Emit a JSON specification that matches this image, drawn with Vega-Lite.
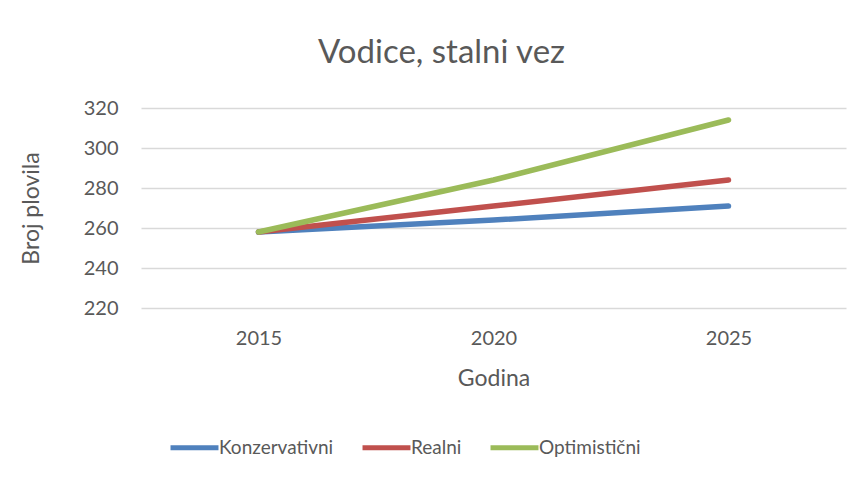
{
  "$schema": "https://vega.github.io/schema/vega-lite/v6.json",
  "width": 705,
  "height": 200,
  "autosize": {"type": "none"},
  "padding": {"left": 141, "top": 108, "right": 17, "bottom": 173},
  "background": "white",
  "title": {
    "text": "Vodice, stalni vez",
    "font": "Lato",
    "fontSize": 33,
    "fontWeight": "normal",
    "color": "#595959",
    "dx": -52,
    "offset": 28
  },
  "data": {
    "values": [
      {"Godina": "2015", "Scenarij": "Konzervativni", "Broj": 258},
      {"Godina": "2020", "Scenarij": "Konzervativni", "Broj": 264},
      {"Godina": "2025", "Scenarij": "Konzervativni", "Broj": 271},
      {"Godina": "2015", "Scenarij": "Realni", "Broj": 258},
      {"Godina": "2020", "Scenarij": "Realni", "Broj": 271},
      {"Godina": "2025", "Scenarij": "Realni", "Broj": 284},
      {"Godina": "2015", "Scenarij": "Optimistični", "Broj": 258},
      {"Godina": "2020", "Scenarij": "Optimistični", "Broj": 284},
      {"Godina": "2025", "Scenarij": "Optimistični", "Broj": 314}
    ]
  },
  "mark": {"type": "line", "strokeWidth": 5.5, "strokeCap": "round", "strokeJoin": "round"},
  "encoding": {
    "x": {
      "field": "Godina",
      "type": "ordinal",
      "scale": {"type": "point", "padding": 0.5},
      "axis": {
        "title": "Godina",
        "labelAngle": 0,
        "grid": false,
        "domain": false,
        "ticks": false,
        "labelFont": "Lato",
        "labelFontSize": 20,
        "labelColor": "#595959",
        "labelPadding": 20,
        "titleFont": "Lato",
        "titleFontSize": 23,
        "titleFontWeight": "normal",
        "titleColor": "#595959",
        "titlePadding": 19
      }
    },
    "y": {
      "field": "Broj",
      "type": "quantitative",
      "scale": {"domain": [220, 320], "nice": false, "zero": false},
      "axis": {
        "title": "Broj plovila",
        "values": [220, 240, 260, 280, 300, 320],
        "grid": true,
        "gridColor": "#D9D9D9",
        "gridWidth": 1.3,
        "domain": false,
        "ticks": false,
        "labelFont": "Lato",
        "labelFontSize": 20,
        "labelColor": "#595959",
        "labelPadding": 23,
        "titleFont": "Lato",
        "titleFontSize": 23,
        "titleFontWeight": "normal",
        "titleColor": "#595959",
        "titlePadding": 40
      }
    },
    "color": {
      "field": "Scenarij",
      "type": "nominal",
      "sort": ["Konzervativni", "Realni", "Optimistični"],
      "scale": {
        "domain": ["Konzervativni", "Realni", "Optimistični"],
        "range": ["#4F81BD", "#C0504D", "#9BBB59"]
      },
      "legend": {
        "title": null,
        "orient": "none",
        "direction": "horizontal",
        "legendX": 27,
        "legendY": 313,
        "symbolType": "stroke",
        "symbolSize": 2300,
        "symbolStrokeWidth": 5,
        "labelFont": "Lato",
        "labelFontSize": 19,
        "labelColor": "#595959",
        "labelOffset": -2,
        "columnPadding": 18
      }
    }
  },
  "config": {"view": {"stroke": null}}
}
